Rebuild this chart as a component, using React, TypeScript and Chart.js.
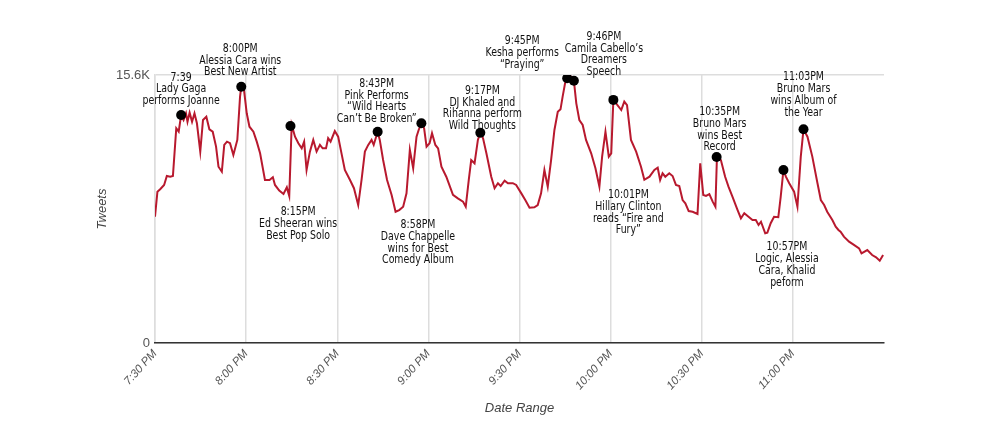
import React, { useEffect, useRef } from "react";
import { Chart, registerables } from "chart.js";

Chart.register(...registerables);

// minutes after 7:30 PM
const minutes = [
  0, 0.8, 1.7, 3.0, 3.9, 5.0, 5.9, 7.0, 7.8, 8.6,
  9.4, 10.2, 10.7, 11.4, 12.2, 13.0, 13.8, 14.9, 15.8, 16.9,
  17.9, 19.0, 20.1, 20.9, 22.0, 22.8, 23.7, 24.7, 25.8, 27.1,
  28.0, 28.4, 29.3, 30.2, 31.1, 32.4, 33.5, 34.6, 36.2, 37.7,
  38.8, 39.5, 40.9, 42.3, 43.4, 44.2, 45.0, 46.1, 47.2, 48.3,
  49.1, 49.9, 51.0, 52.1, 53.2, 54.3, 55.2, 56.3, 57.0, 57.8,
  59.2, 60.3, 61.4, 62.5, 64.2, 65.5, 66.9, 68.0, 69.1, 70.2,
  71.3, 72.0, 73.3, 74.0, 75.1, 76.4, 77.9, 79.2, 80.4, 81.7,
  82.8, 83.9, 85.0, 86.1, 86.8, 87.7, 88.6, 89.4, 90.4, 91.2,
  92.3, 93.2, 94.3, 95.9, 98.1, 99.7, 101.4, 102.3, 103.3, 104.1,
  105.2, 106.3, 107.1, 108.0, 109.1, 110.7, 111.8, 112.9, 113.8, 115.1,
  116.2, 117.8, 118.9, 120.6, 121.9, 123.3, 124.9, 126.0, 127.1, 128.2,
  129.3, 130.4, 131.5, 132.6, 133.5, 134.2, 135.0, 135.7, 137.0, 137.9,
  138.7, 139.7, 140.8, 141.9, 143.6, 145.0, 146.3, 147.2, 148.3, 149.4,
  150.2, 150.9, 151.8, 153.5, 154.5, 155.4, 156.7, 158.4, 160.0, 161.1,
  162.8, 164.4, 165.5, 166.3, 167.1, 168.0, 169.3, 170.4, 171.5, 172.6,
  173.7, 174.6, 175.7, 177.0, 178.6, 179.5, 180.5, 181.4, 182.5, 183.6,
  184.5, 185.0, 186.3, 187.7, 188.8, 190.1, 191.8, 192.9, 194.0, 195.4,
  196.7, 197.8, 198.7, 199.5, 200.9, 201.6, 202.7, 203.8, 205.2, 206.0,
  206.9, 207.7, 208.8, 210.4, 211.5, 212.6, 213.5, 214.8, 216.4, 218.1,
  219.2, 220.3, 221.3, 223.0, 224.1, 225.0, 225.7, 226.8, 228.5, 230.1,
  231.8, 232.6, 234.5, 236.1, 237.4, 238.6, 239.7,
];

const tweets = [
  7350, 8810, 8950, 9200, 9720, 9680, 9720, 12500, 12300, 13270,
  12980, 13370, 12880, 13410, 12880, 13370, 12790, 11140, 12980, 13170,
  12440, 12300, 11430, 10260, 9970, 11530, 11720, 11630, 10940, 11820,
  14340, 14920, 14730, 13370, 12590, 12300, 11720, 11040, 9490, 9490,
  9650, 9200, 8870, 8670, 9060, 8560, 12690, 12010, 11630, 11330,
  11720, 10070, 11140, 11820, 11140, 11530, 11330, 11330, 11920, 11720,
  12340, 12010, 11040, 10070, 9490, 9010, 8030, 9490, 11140, 11530,
  11820, 11530, 12300, 11820, 10650, 9490, 8620, 7640, 7740, 7930,
  8710, 11240, 10170, 12010, 12400, 12790, 12500, 11430, 11630, 12210,
  11530, 11330, 10260, 9680, 8620, 8420, 8230, 7930, 9490, 10650,
  10460, 11820, 12240, 11920, 11040, 9680, 9010, 9300, 9140, 9450,
  9300, 9300, 9200, 8710, 8320, 7880, 7900, 8030, 8710, 10070,
  9100, 10650, 12400, 13460, 13600, 14340, 15120, 15410, 15500, 15270,
  13950, 12980, 12690, 11820, 11040, 10170, 9100, 10850, 12300, 10850,
  11040, 14150, 13950, 13560, 14050, 13850, 11820, 11140, 10260, 9500,
  9680, 10070, 10200, 9490, 9880, 9680, 9880, 9720, 9200, 9140,
  8320, 8130, 7680, 7640, 7510, 10460, 8620, 8560, 8670, 8230,
  7930, 10810, 10650, 9680, 9100, 8520, 7740, 7260, 7550, 7350,
  7160, 7160, 6870, 7060, 6390, 6420, 6970, 7350, 7320, 8520,
  10070, 9680, 9300, 8810, 7930, 10850, 12440, 12010, 10850, 9300,
  8320, 8030, 7640, 7160, 6770, 6580, 6480, 6190, 5900, 5710,
  5510, 5220, 5410, 5120, 4990, 4790, 5120,
];

const xTickValues = [0, 30, 60, 90, 120, 150, 180, 210];
const xTickLabels = ["7:30 PM", "8:00 PM", "8:30 PM", "9:00 PM", "9:30 PM", "10:00 PM", "10:30 PM", "11:00 PM"];
const yTickValues = [0, 15600];
const yTickLabels = ["0", "15.6K"];

const eventMinutes = [8.6, 28.4, 44.6, 73.3, 87.7, 107.1, 135.7, 137.9, 150.9, 184.9, 206.9, 213.5];
const eventTweets = [13270, 14920, 12630, 12300, 12790, 12240, 15410, 15270, 14150, 10830, 10070, 12440];
const eventTexts = [
  ["7:39", "Lady Gaga", "performs Joanne"],
  ["8:00PM", "Alessia Cara wins", "Best New Artist"],
  ["8:15PM", "Ed Sheeran wins", "Best Pop Solo"],
  ["8:43PM", "Pink Performs", "\u201cWild Hearts", "Can\u2019t Be Broken\u201d"],
  ["8:58PM", "Dave Chappelle", "wins for Best", "Comedy Album"],
  ["9:17PM", "DJ Khaled and", "Rihanna perform", "Wild Thoughts"],
  ["9:45PM", "Kesha performs", "\u201cPraying\u201d"],
  ["9:46PM", "Camila Cabello\u2019s", "Dreamers", "Speech"],
  ["10:01PM", "Hillary Clinton", "reads \u201cFire and", "Fury\u201d"],
  ["10:35PM", "Bruno Mars", "wins Best", "Record"],
  ["10:57PM", "Logic, Alessia", "Cara, Khalid", "peform"],
  ["11:03PM", "Bruno Mars", "wins Album of", "the Year"],
];

// placement of each label block relative to its dot (pixels: dx of centre, dy of first line)
const labelOffsets = [
  [0, -37.5], [-1, -38], [7.6, 86], [-1, -48], [-3.4, 101.7], [2, -42],
  [-45, -37.3], [30, -44], [15, 95], [3, -45], [3.5, 77.3], [0, -52.3],
];

const LABEL_FONT = '12px "DejaVu Sans Condensed", "Liberation Sans Narrow", sans-serif';
const LABEL_SQUEEZE = 0.87;
const LINE_H = 11.8;

const annotationPlugin = {
  id: "eventLabels",
  afterDatasetsDraw(chart: any) {
    const { ctx, scales } = chart;
    eventTexts.forEach((lines, i) => {
      const px = scales.x.getPixelForValue(eventMinutes[i]);
      const py = scales.y.getPixelForValue(eventTweets[i]);
      const [dx, dy] = labelOffsets[i];
      lines.forEach((t, k) => {
        ctx.save();
        ctx.font = LABEL_FONT;
        ctx.fillStyle = "#111";
        ctx.textAlign = "center";
        ctx.textBaseline = "middle";
        ctx.translate(px + dx, py + dy + k * LINE_H);
        ctx.scale(LABEL_SQUEEZE, 1);
        ctx.fillText(t, 0, 0);
        ctx.restore();
      });
    });
  },
};

export default function App() {
  const ref = useRef<HTMLCanvasElement | null>(null);
  useEffect(() => {
    if (!ref.current) return;
    const chart = new Chart(ref.current, {
      type: "line",
      data: {
        datasets: [
          {
            type: "scatter",
            data: eventMinutes.map((m, i) => ({ x: m, y: eventTweets[i] })),
            backgroundColor: "#000",
            borderWidth: 0,
            pointRadius: 5,
            showLine: false,
            order: 0,
          } as any,
          {
            data: minutes.map((m, i) => ({ x: m, y: tweets[i] })),
            borderColor: "#b8192e",
            borderWidth: 2,
            pointRadius: 0,
            tension: 0,
            fill: false,
            order: 1,
          },
        ],
      },
      options: {
        responsive: false,
        animation: false,
        layout: { padding: { left: 91, right: 116, top: 75, bottom: 28 } },
        plugins: { legend: { display: false }, tooltip: { enabled: false } },
        scales: {
          x: {
            type: "linear",
            min: 0,
            max: 240,
            afterBuildTicks: (s: any) => {
              s.ticks = xTickValues.map((v) => ({ value: v }));
            },
            afterFit: (s: any) => {
              s.height = 77;
            },
            ticks: {
              autoSkip: false,
              minRotation: 48,
              maxRotation: 48,
              padding: 4,
              color: "#555",
              font: { family: '"Liberation Sans", Arial, sans-serif', size: 11.5, style: "italic" },
              callback: (v: any) => xTickLabels[xTickValues.indexOf(v)] ?? "",
            },
            grid: { color: "#dddddd", lineWidth: 1.5, drawTicks: false },
            border: { display: true, color: "#333", width: 1.5, z: 1 },
            title: {
              display: true,
              text: "Date Range",
              color: "#444",
              padding: { top: 4, bottom: 4 },
              font: { family: '"Liberation Sans", Arial, sans-serif', size: 13, style: "italic" },
            },
          },
          y: {
            min: 0,
            max: 15600,
            afterBuildTicks: (s: any) => {
              s.ticks = yTickValues.map((v) => ({ value: v }));
            },
            afterFit: (s: any) => {
              s.width = 64;
            },
            ticks: {
              padding: 5,
              color: "#555",
              font: { family: '"Liberation Sans", Arial, sans-serif', size: 13 },
              callback: (v: any) => yTickLabels[yTickValues.indexOf(v)] ?? "",
            },
            grid: { color: "#dddddd", lineWidth: 1.5, drawTicks: false },
            border: { display: true, color: "#dddddd", width: 1.5 },
            title: {
              display: true,
              text: "Tweets",
              color: "#444",
              padding: { top: 4, bottom: 4 },
              font: { family: '"Liberation Sans", Arial, sans-serif', size: 13, style: "italic" },
            },
          },
        },
      },
      plugins: [annotationPlugin],
    } as any);
    return () => chart.destroy();
  }, []);
  return (
    <div style={{ position: "absolute", left: 0, top: 0, width: 1000, height: 448, background: "#fff" }}>
      <canvas ref={ref} width={1000} height={448} style={{ display: "block" }} />
    </div>
  );
}
